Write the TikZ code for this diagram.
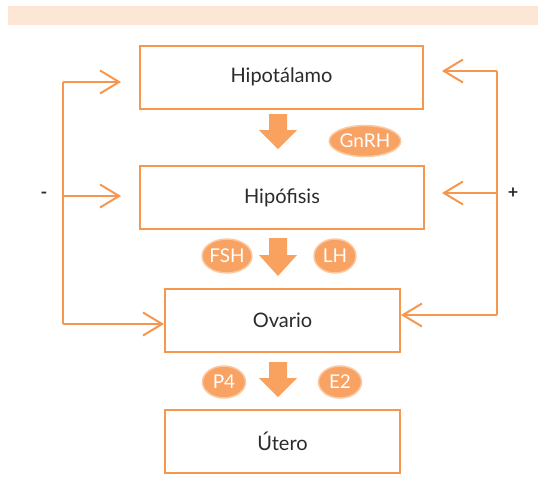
\documentclass[tikz,border=0pt]{standalone}
\usepackage{fontspec}
\setmainfont{Lato}
\usetikzlibrary{arrows.meta,shapes.geometric}
\definecolor{lineor}{HTML}{F7964F}
\definecolor{fillor}{HTML}{F9A15E}
\definecolor{ellfill}{HTML}{F8A263}
\definecolor{ellring}{HTML}{FCC89F}
\definecolor{barfill}{HTML}{FDE6D5}
\definecolor{txt}{HTML}{2B2B2B}
\tikzset{
  organ/.style={draw=lineor, line width=2pt, fill=white, minimum height=63pt, inner sep=0pt, font=\fontsize{20}{24}\selectfont, text=txt},
  horm/.style={ellipse, fill=ellfill, draw=ellring, line width=1.5pt, inner sep=0pt, font=\fontsize{19}{22}\selectfont, text=white},
  fb/.style={draw=lineor, line width=2pt},
  fbarrow/.style={fb, -{Straight Barb[length=19pt,width=23pt,line width=2pt]}},
  blockarrow/.style={fill=fillor, draw=none},
  sign/.style={font=\bfseries\fontsize{18}{20}\selectfont, text=txt}
}
\begin{document}
\begin{tikzpicture}[x=1pt,y=-1pt]
\useasboundingbox (0,0) rectangle (538,501);
\fill[barfill] (8,6) rectangle (538,25);
% boxes
\node[organ, minimum width=283pt] (hipo) at (281.5,77) {Hipotálamo};
\node[organ, minimum width=284pt] (hipof) at (282,197.5) {Hipófisis};
\node[organ, minimum width=235pt] (ovario) at (282.5,320.5) {Ovario};
\node[organ, minimum width=235pt] (utero) at (282.5,441.5) {Útero};
% block arrows
\fill[blockarrow] (269,114) -- (287,114) -- (287,130) -- (297,130) -- (278,149) -- (259,130) -- (269,130) -- cycle;
\fill[blockarrow] (269,238) -- (287,238) -- (287,255) -- (297,255) -- (278,276) -- (259,255) -- (269,255) -- cycle;
\fill[blockarrow] (269,362) -- (287,362) -- (287,378) -- (297,378) -- (278,397) -- (259,378) -- (269,378) -- cycle;
% hormones
\node[horm, minimum width=70pt, minimum height=31pt] (gnrh) at (365,141) {GnRH};
\node[horm, minimum width=49pt, minimum height=34pt] (fsh) at (227,256) {FSH};
\node[horm, minimum width=42pt, minimum height=34pt] (lh) at (335,256) {LH};
\node[horm, minimum width=43pt, minimum height=32pt] (p4) at (224,382) {P4};
\node[horm, minimum width=43pt, minimum height=32pt] (e2) at (340,382) {E2};
% negative feedback
\coordinate (lt) at (63,82);
\coordinate (lm) at (63,196);
\coordinate (lb) at (63,324);
\coordinate (lta) at (121,82);
\coordinate (lma) at (121,196);
\draw[fb] (lt) -- (lb);
\draw[fbarrow] (lt) -- (lta);
\draw[fbarrow] (lm) -- (lma);
\draw[fbarrow] (lb) -- (ovario.west |- lb);
\node[sign] (minus) at (44,195) {-};
% positive feedback
\coordinate (rt) at (497,71);
\coordinate (rm) at (497,193);
\coordinate (rb) at (497,315);
\coordinate (rta) at (442,71);
\coordinate (rma) at (442,193);
\draw[fb] (rt) -- (rb);
\draw[fbarrow] (rt) -- (rta);
\draw[fbarrow] (rm) -- (rma);
\draw[fbarrow] (rb) -- (ovario.east |- rb);
\node[sign] (plus) at (513,193) {+};
\end{tikzpicture}
\end{document}
